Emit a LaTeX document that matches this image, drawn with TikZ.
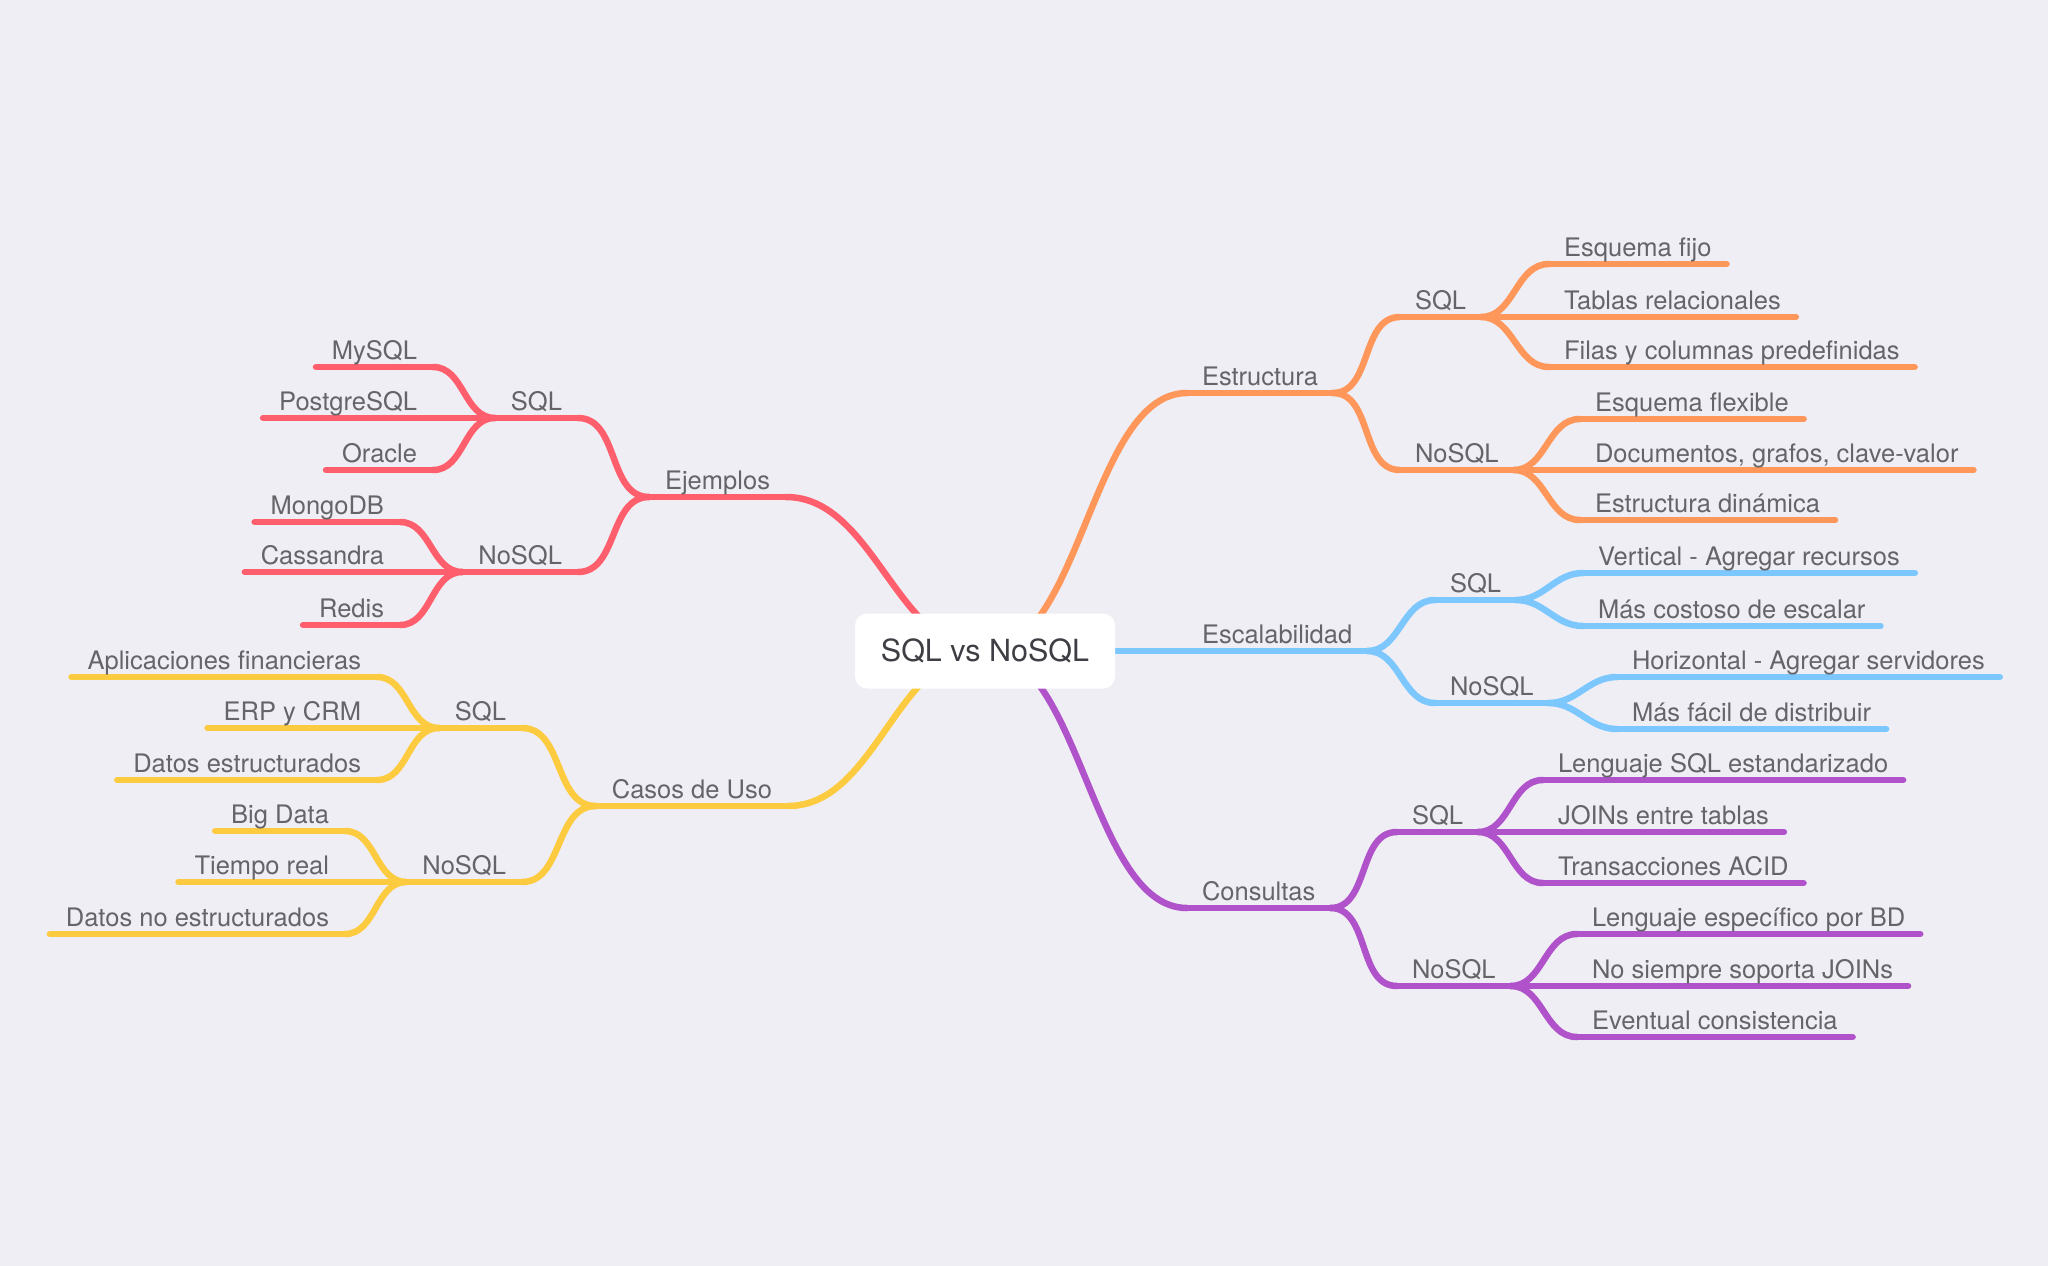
\documentclass[tikz,border=0pt]{standalone}
\usepackage{fontspec}
\setmainfont{TeX Gyre Heros}
\usetikzlibrary{backgrounds}

\definecolor{bgcol}{HTML}{EFEEF4}
\definecolor{txtgray}{HTML}{646469}
\definecolor{rootgray}{HTML}{3E3E44}
\definecolor{orangeL}{HTML}{FF965A}
\definecolor{blueL}{HTML}{7CC7FD}
\definecolor{purpleL}{HTML}{B052C9}
\definecolor{redL}{HTML}{FF5F6C}
\definecolor{yellowL}{HTML}{FDCB40}

\tikzset{
  topic/.style={font=\fontsize{25.5}{30}\selectfont, text=txtgray, inner xsep=15pt,
    inner ysep=8pt, text height=18pt, text depth=0pt, outer sep=0pt},
  rt/.style={topic, anchor=south west},
  lt/.style={topic, anchor=south east, inner xsep=16pt},
  link/.style={draw=#1, line width=6.5pt, line cap=round},
  rootbox/.style={fill=white, rounded corners=12pt, minimum width=260pt,
    minimum height=75pt, font=\fontsize{30.5}{36}\selectfont, text=rootgray}
}

\begin{document}
\begin{tikzpicture}[x=1pt, y=-1pt]
    \useasboundingbox (0,0) rectangle (2048,1266);
    \node[rootbox] (root) at (985,651) {SQL vs NoSQL};

    % right side
    \node[rt] (est) at (1187,393) {Estructura};
    \node[rt] (estq) at (1400,317) {SQL};
    \node[rt] (estn) at (1400,470) {NoSQL};
    \node[rt] (eq1) at (1549,264) {Esquema fijo};
    \node[rt] (eq2) at (1549,317) {Tablas relacionales};
    \node[rt] (eq3) at (1549,367) {Filas y columnas predefinidas};
    \node[rt] (en1) at (1580,419) {Esquema flexible};
    \node[rt] (en2) at (1580,470) {Documentos, grafos, clave-valor};
    \node[rt] (en3) at (1580,520) {Estructura dinámica};

    \node[rt] (esc) at (1187,651) {Escalabilidad};
    \node[rt] (escq) at (1435,600) {SQL};
    \node[rt] (escn) at (1435,703) {NoSQL};
    \node[rt] (sq1) at (1583,573) {Vertical - Agregar recursos};
    \node[rt] (sq2) at (1583,626) {Más costoso de escalar};
    \node[rt] (sn1) at (1617,677) {Horizontal - Agregar servidores};
    \node[rt] (sn2) at (1617,729) {Más fácil de distribuir};

    \node[rt] (con) at (1187,908) {Consultas};
    \node[rt] (conq) at (1397,832) {SQL};
    \node[rt] (conn) at (1397,986) {NoSQL};
    \node[rt] (cq1) at (1543,780) {Lenguaje SQL estandarizado};
    \node[rt] (cq2) at (1543,832) {JOINs entre tablas};
    \node[rt] (cq3) at (1543,883) {Transacciones ACID};
    \node[rt] (cn1) at (1577,934) {Lenguaje específico por BD};
    \node[rt] (cn2) at (1577,986) {No siempre soporta JOINs};
    \node[rt] (cn3) at (1577,1037) {Eventual consistencia};

    % left side
    \node[lt] (ej) at (786,497) {Ejemplos};
    \node[lt] (ejq) at (578,418) {SQL};
    \node[lt] (ejn) at (578,572) {NoSQL};
    \node[lt] (jq1) at (433,367) {MySQL};
    \node[lt] (jq2) at (433,418) {PostgreSQL};
    \node[lt] (jq3) at (433,470) {Oracle};
    \node[lt] (jn1) at (400,522) {MongoDB};
    \node[lt] (jn2) at (400,572) {Cassandra};
    \node[lt] (jn3) at (400,625) {Redis};

    \node[lt] (cas) at (788,806) {Casos de Uso};
    \node[lt] (casq) at (522,728) {SQL};
    \node[lt] (casn) at (522,882) {NoSQL};
    \node[lt] (uq1) at (377,677) {Aplicaciones financieras};
    \node[lt] (uq2) at (377,728) {ERP y CRM};
    \node[lt] (uq3) at (377,780) {Datos estructurados};
    \node[lt] (un1) at (345,831) {Big Data};
    \node[lt] (un2) at (345,882) {Tiempo real};
    \node[lt] (un3) at (345,934) {Datos no estructurados};

    \begin{scope}[on background layer]
        \fill[bgcol] (0,0) rectangle (2048,1266);
        % branches from the root
        \draw[link=orangeL] (root.center) to[out=0,in=180,looseness=0.75] (est.south west);
        \draw[link=blueL] (root.center) -- (esc.south west);
        \draw[link=purpleL] (root.center) to[out=0,in=180,looseness=0.75] (con.south west);
        \draw[link=redL] (root.center) to[out=180,in=0,looseness=0.9] (ej.south east);
        \draw[link=yellowL] (root.center) to[out=180,in=0,looseness=0.9] (cas.south east);
        % underlines
        \foreach \n in {est,estq,estn,eq1,eq2,eq3,en1,en2,en3}
            \draw[link=orangeL] (\n.south west) -- (\n.south east);
        \foreach \n in {esc,escq,escn,sq1,sq2,sn1,sn2}
            \draw[link=blueL] (\n.south west) -- (\n.south east);
        \foreach \n in {con,conq,conn,cq1,cq2,cq3,cn1,cn2,cn3}
            \draw[link=purpleL] (\n.south west) -- (\n.south east);
        \foreach \n in {ej,ejq,ejn,jq1,jq2,jq3,jn1,jn2,jn3}
            \draw[link=redL] (\n.south west) -- (\n.south east);
        \foreach \n in {cas,casq,casn,uq1,uq2,uq3,un1,un2,un3}
            \draw[link=yellowL] (\n.south west) -- (\n.south east);
        % connectors
        \foreach \a/\b in {est/estq,est/estn,estq/eq1,estq/eq2,estq/eq3,estn/en1,estn/en2,estn/en3}
            \draw[link=orangeL] (\a.south east) to[out=0,in=180] (\b.south west);
        \foreach \a/\b in {esc/escq,esc/escn,escq/sq1,escq/sq2,escn/sn1,escn/sn2}
            \draw[link=blueL] (\a.south east) to[out=0,in=180] (\b.south west);
        \foreach \a/\b in {con/conq,con/conn,conq/cq1,conq/cq2,conq/cq3,conn/cn1,conn/cn2,conn/cn3}
            \draw[link=purpleL] (\a.south east) to[out=0,in=180] (\b.south west);
        \foreach \a/\b in {ej/ejq,ej/ejn,ejq/jq1,ejq/jq2,ejq/jq3,ejn/jn1,ejn/jn2,ejn/jn3}
            \draw[link=redL] (\a.south west) to[out=180,in=0] (\b.south east);
        \foreach \a/\b in {cas/casq,cas/casn,casq/uq1,casq/uq2,casq/uq3,casn/un1,casn/un2,casn/un3}
            \draw[link=yellowL] (\a.south west) to[out=180,in=0] (\b.south east);
    \end{scope}
\end{tikzpicture}
\end{document}
